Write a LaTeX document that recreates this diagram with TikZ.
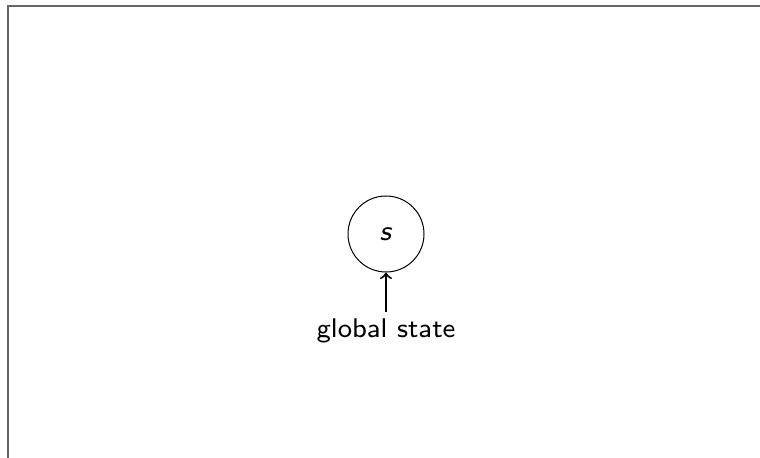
\documentclass[tikz,border=0pt]{standalone}
\usepackage{fontspec}
\newfontfamily\smallsans[ItalicFont=lmsans8-oblique.otf]{lmsans8-regular.otf}
\begin{document}
\begin{tikzpicture}[x=0.4pt,y=-0.4pt,
  framel/.style={draw=black!60,line width=0.8pt},
  state/.style={circle,draw,line width=0.4pt,minimum size=30.4pt,inner sep=0pt,font=\smallsans\fontsize{11.2}{13}\selectfont},
  lbl/.style={font=\smallsans\fontsize{10.8}{13}\selectfont,inner sep=2.5pt}]
\useasboundingbox (0,0) rectangle (760,458);
\coordinate (tl) at (8,6);
\coordinate (tr) at (760,6);
\coordinate (bl) at (8,458);
\draw[framel] (tr) -- (tl) -- (bl);
\node[state] (s) at (386,234) {\textit{s}};
\node[lbl] (g) at (386,331) {global state};
\draw[->,line width=0.8pt] (g) -- (s);
\end{tikzpicture}
\end{document}
